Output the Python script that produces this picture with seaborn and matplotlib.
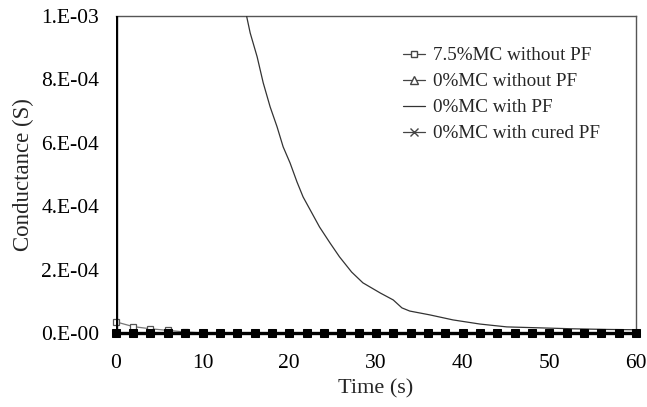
import numpy as np
import pandas as pd
import seaborn as sns
import matplotlib.pyplot as plt
from matplotlib.lines import Line2D

# time grid (s) of the sampled points
time_grid = [0, 2, 4, 6, 8, 10, 12, 14, 16, 18, 20, 22, 24, 26, 28, 30,
             32, 34, 36, 38, 40, 42, 44, 46, 48, 50, 52, 54, 56, 58, 60]

# 7.5%MC without PF (S)
time_75 = [0, 2, 4, 6, 8, 10]
mc75_no_pf = [3.5e-5, 2.0e-5, 1.3e-5, 0.8e-5, 0.3e-5, 0.0]

# 0%MC without PF (S) - sits on zero
mc0_no_pf = [0.0, 0.0, 0.0, 0.0, 0.0, 0.0, 0.0, 0.0, 0.0, 0.0, 0.0, 0.0, 0.0, 0.0, 0.0, 0.0,
             0.0, 0.0, 0.0, 0.0, 0.0, 0.0, 0.0, 0.0, 0.0, 0.0, 0.0, 0.0, 0.0, 0.0, 0.0]

# 0%MC with PF (S)
time_pf = [13, 14, 15, 15.5, 16.3, 17, 17.8, 18.6, 19.3, 20.1, 20.9, 21.6, 22.6,
           23.5, 24.7, 25.8, 27.2, 28.5, 30.5, 32, 33, 33.9, 36.2, 38.9, 42,
           45.1, 48.9, 52.7, 56.6, 60]
mc0_pf = [1.25e-3, 1.12e-3, 1.01e-3, 9.46e-4, 8.71e-4, 7.89e-4, 7.13e-4, 6.5e-4,
          5.87e-4, 5.36e-4, 4.76e-4, 4.29e-4, 3.79e-4, 3.34e-4, 2.84e-4, 2.4e-4,
          1.92e-4, 1.58e-4, 1.26e-4, 1.04e-4, 7.9e-5, 6.9e-5, 5.7e-5, 4.1e-5,
          2.8e-5, 1.9e-5, 1.6e-5, 1.3e-5, 1.1e-5, 1.0e-5]

# 0%MC with cured PF (S) - spike at t=0 then zero
time_cured = [0, 0, 2, 4, 6, 8, 10, 12, 14, 16, 18, 20, 22, 24, 26, 28, 30,
              32, 34, 36, 38, 40, 42, 44, 46, 48, 50, 52, 54, 56, 58, 60]
mc0_cured = [1.3e-3, 0.0, 0.0, 0.0, 0.0, 0.0, 0.0, 0.0, 0.0, 0.0, 0.0, 0.0, 0.0, 0.0, 0.0, 0.0, 0.0,
             0.0, 0.0, 0.0, 0.0, 0.0, 0.0, 0.0, 0.0, 0.0, 0.0, 0.0, 0.0, 0.0, 0.0, 0.0]

yticks = [0, 2e-4, 4e-4, 6e-4, 8e-4, 1e-3]
ytick_labels = ['0.E-00', '2.E-04', '4.E-04', '6.E-04', '8.E-04', '1.E-03']
xticks = [0, 10, 20, 30, 40, 50, 60]
labels = ['7.5%MC without PF', '0%MC without PF', '0%MC with PF', '0%MC with cured PF']

sns.set_style('white')
plt.rcParams['font.family'] = ['Liberation Serif', 'DejaVu Serif']

fig = plt.figure(figsize=(6.47, 4.07), dpi=100)
ax = fig.add_axes([0.179, 0.182, 0.804, 0.779])

df75 = pd.DataFrame({'t': time_75, 'g': mc75_no_pf})
sns.lineplot(data=df75, x='t', y='g', ax=ax, color='#777777', lw=0.9,
             marker='s', markersize=5, markerfacecolor='white',
             markeredgecolor='#555555', markeredgewidth=0.9, zorder=3,
             clip_on=False)

df0 = pd.DataFrame({'t': time_grid, 'g': mc0_no_pf})
sns.lineplot(data=df0, x='t', y='g', ax=ax, color='black', lw=1,
             marker='^', markersize=4, markerfacecolor='white',
             markeredgecolor='black', zorder=2, clip_on=False)

dfpf = pd.DataFrame({'t': time_pf, 'g': mc0_pf})
sns.lineplot(data=dfpf, x='t', y='g', ax=ax, color='#333333', lw=0.9, zorder=3)

# zero part of the cured PF series, square markers shown in full
dfc = pd.DataFrame({'t': time_cured[1:], 'g': mc0_cured[1:]})
sns.lineplot(data=dfc, x='t', y='g', ax=ax, color='black', lw=2.4,
             marker='s', markersize=6, markerfacecolor='black',
             markeredgecolor='black', zorder=4, clip_on=False)
# spike at t=0
sns.lineplot(x=time_cured[:2], y=mc0_cured[:2], ax=ax, color='black', lw=2.4,
             zorder=4, sort=False, estimator=None)

ax.set_xlim(0, 60)
ax.set_ylim(0, 1e-3)
ax.set_xticks(xticks)
ax.set_xticklabels([str(v) for v in xticks])
ax.set_yticks(yticks)
ax.set_yticklabels(ytick_labels)
ax.tick_params(axis='both', length=0, labelsize=15.5, colors='black')
ax.tick_params(axis='x', pad=15)
ax.tick_params(axis='y', pad=12)
ax.set_xlabel('Time (s)', fontsize=16, labelpad=5)
ax.set_ylabel('Conductance (S)', fontsize=16.5, labelpad=5)

for side in ['top', 'right']:
    ax.spines[side].set_color('#555555')
    ax.spines[side].set_linewidth(1.0)
ax.spines['left'].set_visible(False)
ax.spines['bottom'].set_visible(False)

handles = [
    Line2D([], [], color='#444444', lw=0.9, marker='s', markersize=5,
           markerfacecolor='white', markeredgecolor='#444444'),
    Line2D([], [], color='#444444', lw=0.9, marker='^', markersize=6,
           markerfacecolor='white', markeredgecolor='#444444'),
    Line2D([], [], color='#333333', lw=0.9),
    Line2D([], [], color='#444444', lw=0.9, marker='x', markersize=6,
           markeredgecolor='#444444'),
]
ax.legend(handles, labels, loc='upper left', bbox_to_anchor=(0.552, 0.902),
          frameon=False, fontsize=13.8, handlelength=1.15, handletextpad=0.42,
          labelspacing=0.45, borderpad=0, borderaxespad=0)

fig.savefig('out.png', dpi=100)
